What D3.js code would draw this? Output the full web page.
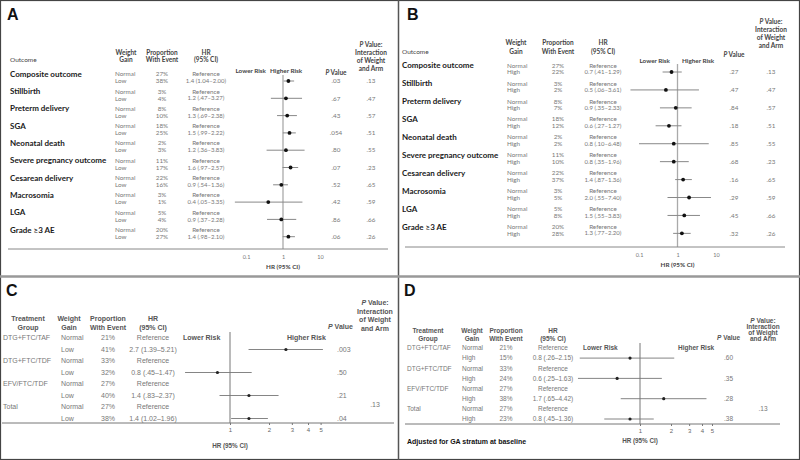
<!DOCTYPE html>
<html><head><meta charset="utf-8">
<script src="https://cdn.jsdelivr.net/npm/d3@7"></script>
<style>
html,body{margin:0;padding:0;background:#fff;}
svg{display:block;}
</style></head>
<body>
<svg id="chart" width="800" height="460"></svg>
<script>
// ---------- DATA ----------
const outcomes = ["Composite outcome","Stillbirth","Preterm delivery","SGA","Neonatal death","Severe pregnancy outcome","Cesarean delivery","Macrosomia","LGA","Grade \u22653 AE"];
// Panel A (Low vs Normal weight gain)
const propNormalA = ["27%","3%","8%","18%","2%","11%","22%","3%","5%","20%"];
const propLowA    = ["38%","4%","10%","25%","3%","17%","16%","1%","4%","27%"];
const hrA = [1.4,1.2,1.3,1.5,1.2,1.6,0.9,0.4,0.9,1.4];
const loA = [1.04,0.47,0.69,0.99,0.36,0.97,0.54,0.05,0.37,0.98];
const hiA = [2.00,3.27,2.38,2.22,3.83,2.57,1.36,3.35,2.28,2.10];
const hrLabelA = ["1.4 (1.04\u20132.00)","1.2 (.47\u20133.27)","1.3 (.69\u20132.38)","1.5 (.99\u20132.22)","1.2 (.36\u20133.83)","1.6 (.97\u20132.57)","0.9 (.54\u20131.36)","0.4 (.05\u20133.35)","0.9 (.37\u20132.28)","1.4 (.98\u20132.10)"];
const pA   = [".03",".67",".43",".054",".80",".07",".52",".42",".86",".06"];
const intA = [".13",".47",".57",".51",".55",".23",".65",".59",".66",".26"];
// Panel B (High vs Normal weight gain)
const propNormalB = ["27%","3%","8%","18%","2%","11%","22%","3%","5%","20%"];
const propHighB   = ["22%","2%","7%","12%","2%","10%","37%","5%","8%","28%"];
const hrB = [0.7,0.5,0.9,0.6,0.8,0.8,1.4,2.0,1.5,1.3];
const loB = [0.41,0.06,0.35,0.27,0.10,0.35,0.87,0.55,0.55,0.77];
const hiB = [1.29,3.61,2.33,1.27,6.48,1.96,2.36,7.40,3.83,2.20];
const hrLabelB = ["0.7 (.41\u20131.29)","0.5 (.06\u20133.61)","0.9 (.35\u20132.33)","0.6 (.27\u20131.27)","0.8 (.10\u20136.48)","0.8 (.35\u20131.96)","1.4 (.87\u20131.36)","2.0 (.55\u20137.40)","1.5 (.55\u20133.83)","1.3 (.77\u20132.20)"];
const pB   = [".27",".47",".84",".18",".85",".68",".16",".29",".45",".32"];
const intB = [".13",".47",".57",".51",".55",".23",".65",".59",".66",".26"];
// Panels C and D (by treatment group)
const groups = ["DTG+FTC/TAF","DTG+FTC/TDF","EFV/FTC/TDF","Total"];
const propNormalC = ["21%","33%","27%","27%"];
const propLowC    = ["41%","32%","40%","38%"];
const hrC = [2.7,0.8,1.4,1.4];
const loC = [1.39,0.45,0.83,1.02];
const hiC = [5.21,1.47,2.37,1.96];
const hrLabelC = ["2.7 (1.39\u20135.21)","0.8 (.45\u20131.47)","1.4 (.83\u20132.37)","1.4 (1.02\u20131.96)"];
const pC = [".003",".50",".21",".04"];
const intC = ".13";
const propNormalD = ["21%","33%","27%","27%"];
const propHighD   = ["15%","24%","38%","23%"];
const hrD = [0.8,0.6,1.7,0.8];
const loD = [0.26,0.25,0.65,0.45];
const hiD = [2.15,1.63,4.42,1.36];
const hrLabelD = ["0.8 (.26\u20132.15)","0.6 (.25\u20131.63)","1.7 (.65\u20134.42)","0.8 (.45\u20131.36)"];
const pD = [".60",".35",".28",".38"];
const intD = ".13";
const ticksAB = [0.1, 1, 10];
const ticksCD = [1, 2, 3, 4, 5];

// ---------- DRAW ----------
const svg = d3.select("#chart");
const FAB = "Lato, 'Open Sans', sans-serif";
const FCD = "'Liberation Sans', Arial, sans-serif";

function txt(g, x, y, s, o = {}) {
  return g.append("text").attr("x", x).attr("y", y).attr("dy", "0.35em")
    .attr("font-family", o.family || FAB).attr("font-size", o.size || 6.5)
    .attr("font-weight", o.weight || "normal").attr("fill", o.fill || "#777")
    .attr("text-anchor", o.anchor || "start").text(s);
}
function pValHeader(g, x, y, o, suffix) {
  const t = g.append("text").attr("x", x).attr("y", y).attr("dy", "0.35em")
    .attr("font-family", o.family).attr("font-size", o.size).attr("font-weight", "bold")
    .attr("fill", o.fill).attr("text-anchor", o.anchor || "middle");
  t.append("tspan").attr("font-style", "italic").text("P");
  t.append("tspan").text(" Value" + (suffix || ""));
}
function multi(g, x, ys, lines, o) {
  lines.forEach((l, i) => txt(g, x, ys[i], l, o));
}

// Frame
svg.append("rect").attr("x", 0.5).attr("y", 0.5).attr("width", 799).attr("height", 459)
  .attr("fill", "none").attr("stroke", "#444").attr("stroke-width", 1.2);
svg.append("line").attr("x1", 398.5).attr("x2", 398.5).attr("y1", 0).attr("y2", 460)
  .attr("stroke", "#555").attr("stroke-width", 1.5);
svg.append("line").attr("x1", 0).attr("x2", 800).attr("y1", 276.5).attr("y2", 276.5)
  .attr("stroke", "#999").attr("stroke-width", 2.5);

// ---------- Panels A / B ----------
function panelAB(cfg) {
  const g = svg.append("g");
  const H = { family: FAB, size: 6.5, weight: "bold", fill: "#444", anchor: "middle" };
  txt(g, cfg.x0 + cfg.letterDx, 14, cfg.letter, { family: FCD, size: 16, weight: "bold", fill: "#111" });
  txt(g, cfg.nameX, cfg.hy[1], "Outcome", { family: FAB, size: 6.5, fill: "#444" });
  multi(g, cfg.wgX, cfg.hy, ["Weight", "Gain"], H);
  multi(g, cfg.propX, cfg.hy, ["Proportion", "With Event"], H);
  multi(g, cfg.hrX, cfg.hy, ["HR", "(95% CI)"], H);
  pValHeader(g, cfg.pX, cfg.pHy, H);
  const iy = cfg.intHy;
  pValHeader(g, cfg.intX, iy[0], H, ":");
  multi(g, cfg.intX, iy.slice(1), ["Interaction", "of Weight", "and Arm"], H);

  const y = d3.scalePoint().domain(outcomes).range([cfg.row0, cfg.row0 + cfg.rowStep * (outcomes.length - 1)]);
  const x = d3.scaleLog().domain([0.1, 10]).range(cfg.xr);

  txt(g, cfg.lowEnd, cfg.riskY, "Lower Risk", { ...H, anchor: "end", size: 6.3 });
  txt(g, cfg.highStart, cfg.riskY, "Higher Risk", { ...H, anchor: "start", size: 6.3 });

  // reference line
  g.append("line").attr("x1", x(1)).attr("x2", x(1)).attr("y1", cfg.refTop).attr("y2", cfg.axisY)
    .attr("stroke", "#aaa").attr("stroke-width", 1.3);

  outcomes.forEach((o, i) => {
    const yy = y(o), y2 = yy + cfg.sub;
    txt(g, cfg.nameX, yy, o, { family: FAB, size: 8, weight: "bold", fill: "#1a1a1a" });
    txt(g, cfg.wgDataX, yy, "Normal", { size: 6.3 });
    txt(g, cfg.wgDataX, y2, cfg.cmpLabel, { size: 6.3 });
    txt(g, cfg.propX, yy, cfg.pn[i], { size: 6.3, anchor: "middle" });
    txt(g, cfg.propX, y2, cfg.pc[i], { size: 6.3, anchor: "middle" });
    txt(g, cfg.hrX, yy, "Reference", { size: 6.3, anchor: "middle" });
    txt(g, cfg.hrX, y2, cfg.lab[i], { size: 6, anchor: "middle" });
    txt(g, cfg.pX, y2, cfg.p[i], { size: 6.3, anchor: "middle" });
    txt(g, cfg.intX, y2, cfg.int[i], { size: 6.3, anchor: "middle" });
    g.append("line").attr("x1", x(cfg.lo[i])).attr("x2", x(cfg.hi[i])).attr("y1", y2).attr("y2", y2)
      .attr("stroke", "#888").attr("stroke-width", 1);
    g.append("circle").attr("cx", x(cfg.hr[i])).attr("cy", y2).attr("r", 1.9).attr("fill", "#111");
  });

  // axis
  g.append("line").attr("x1", cfg.axX[0]).attr("x2", cfg.axX[1]).attr("y1", cfg.axisY).attr("y2", cfg.axisY)
    .attr("stroke", "#888").attr("stroke-width", 1);
  const ax = g.append("g").attr("transform", `translate(0,${cfg.axisY})`)
    .call(d3.axisBottom(x).tickValues(ticksAB).tickFormat(d => String(d)).tickSize(0).tickPadding(6));
  ax.select(".domain").remove();
  ax.selectAll("text").attr("font-family", FAB).attr("font-size", 5.5).attr("fill", "#777");
  txt(g, x(1), cfg.axisY + 18, "HR (95% CI)", { ...H, size: 6.3 });
}

panelAB({ x0: 0, letter: "A", letterDx: 7, nameX: 10, hy: [53, 60], wgX: 126, wgDataX: 115, propX: 162, hrX: 206,
  pX: 336, pHy: 73, intX: 371, intHy: [45, 53, 61, 69], row0: 74, rowStep: 17.3, sub: 7,
  xr: [246, 320], riskY: 71, lowEnd: 266, highStart: 270, refTop: 75, axisY: 249, axX: [8, 388], cmpLabel: "Low",
  pn: propNormalA, pc: propLowA, lab: hrLabelA, p: pA, int: intA, lo: loA, hi: hiA, hr: hrA });
panelAB({ x0: 400, letter: "B", letterDx: 7, nameX: 402, hy: [43, 52], wgX: 516, wgDataX: 507, propX: 558, hrX: 603,
  pX: 734, pHy: 55, intX: 771, intHy: [22, 30, 38, 46], row0: 65.5, rowStep: 17.93, sub: 6.5,
  xr: [639, 716], riskY: 61, lowEnd: 670, highStart: 682, refTop: 64, axisY: 247, axX: [405, 785], cmpLabel: "High",
  pn: propNormalB, pc: propHighB, lab: hrLabelB, p: pB, int: intB, lo: loB, hi: hiB, hr: hrB });

// ---------- Panels C / D ----------
function panelCD(cfg) {
  const g = svg.append("g");
  const S = cfg.fs;
  const H = { family: FCD, size: S, weight: "bold", fill: "#555", anchor: "middle" };
  const Dt = { family: FCD, size: S, fill: "#777" };
  txt(g, cfg.letterX, 290, cfg.letter, { family: FCD, size: 16, weight: "bold", fill: "#111" });
  multi(g, cfg.tgX, cfg.hy, ["Treatment", "Group"], H);
  multi(g, cfg.wgX, cfg.hy, ["Weight", "Gain"], H);
  multi(g, cfg.propX, cfg.hy, ["Proportion", "With Event"], H);
  multi(g, cfg.hrX, cfg.hy, ["HR", "(95% CI)"], H);
  pValHeader(g, cfg.pHX, cfg.pHy, { ...H, anchor: "start" });
  pValHeader(g, cfg.intX, cfg.intHy[0], H, ":");
  multi(g, cfg.intX, cfg.intHy.slice(1), ["Interaction", "of Weight", "and Arm"], H);

  const y = d3.scalePoint().domain(groups).range([cfg.row0, cfg.row0 + cfg.rowStep * 3]);
  const x = d3.scaleLog().domain([1, 5]).range(cfg.xr);

  g.append("line").attr("x1", x(1)).attr("x2", x(1)).attr("y1", cfg.refTop).attr("y2", cfg.axisY)
    .attr("stroke", "#666").attr("stroke-width", 0.9);
  txt(g, cfg.lowX, cfg.row0, "Lower Risk", { ...H, anchor: "start" });
  txt(g, cfg.highX, cfg.row0, "Higher Risk", { ...H, anchor: "start" });

  groups.forEach((gr, i) => {
    const yy = y(gr), y2 = yy + cfg.sub;
    txt(g, cfg.nameX, yy, gr, Dt);
    txt(g, cfg.wgDataX, yy, "Normal", Dt);
    txt(g, cfg.wgDataX, y2, cfg.cmpLabel, Dt);
    txt(g, cfg.propX, yy, cfg.pn[i], { ...Dt, anchor: "middle" });
    txt(g, cfg.propX, y2, cfg.pc[i], { ...Dt, anchor: "middle" });
    txt(g, cfg.hrX, yy, "Reference", { ...Dt, anchor: "middle" });
    txt(g, cfg.hrX, y2, cfg.lab[i], { ...Dt, anchor: "middle" });
    txt(g, cfg.pX, y2, cfg.p[i], Dt);
    g.append("line").attr("x1", x(cfg.lo[i])).attr("x2", x(cfg.hi[i])).attr("y1", y2).attr("y2", y2)
      .attr("stroke", "#777").attr("stroke-width", 0.9);
    g.append("circle").attr("cx", x(cfg.hr[i])).attr("cy", y2).attr("r", 1.6).attr("fill", "#222");
  });
  txt(g, cfg.intX, cfg.intY, cfg.int, { ...Dt, anchor: "middle" });

  g.append("line").attr("x1", cfg.axX[0]).attr("x2", cfg.axX[1]).attr("y1", cfg.axisY).attr("y2", cfg.axisY)
    .attr("stroke", "#777").attr("stroke-width", 1);
  const ax = g.append("g").attr("transform", `translate(0,${cfg.axisY})`)
    .call(d3.axisBottom(x).tickValues(ticksCD).tickFormat(d => String(d)).tickSize(2).tickPadding(3));
  ax.select(".domain").remove();
  ax.selectAll("line").attr("stroke", "#777");
  ax.selectAll("text").attr("font-family", FCD).attr("font-size", 6).attr("fill", "#666");
  txt(g, x(1), cfg.titleY, "HR (95% CI)", { ...H, size: 6.3 });
  if (cfg.note) txt(g, cfg.nameX, cfg.noteY, cfg.note, { family: FCD, size: 7, weight: "bold", fill: "#111" });
}

panelCD({ letter: "C", letterX: 6, fs: 7, tgX: 28, wgX: 69, propX: 108, hrX: 153, hy: [319, 328],
  pHX: 328, pHy: 327, intX: 375, intHy: [303, 311.5, 320, 328.5], row0: 338, rowStep: 23, sub: 11.5,
  xr: [230, 320.6], refTop: 332, axisY: 423, axX: [2, 394], lowX: 183, highX: 287,
  nameX: 3, wgDataX: 61, pX: 337, intY: 405, titleY: 446, cmpLabel: "Low",
  pn: propNormalC, pc: propLowC, lab: hrLabelC, p: pC, int: intC, lo: loC, hi: hiC, hr: hrC });
panelCD({ letter: "D", letterX: 404, fs: 6.5, tgX: 428, wgX: 472, propX: 506, hrX: 553, hy: [331, 338.5],
  pHX: 717, pHy: 338, intX: 763, intHy: [320.5, 326.5, 332.5, 339], row0: 348, rowStep: 20.3, sub: 10.1,
  xr: [640, 712], refTop: 343, axisY: 424, axX: [405, 780], lowX: 583, highX: 678,
  nameX: 407, wgDataX: 462, pX: 724, intY: 409, titleY: 441, cmpLabel: "High",
  note: "Adjusted for GA stratum at baseline", noteY: 442,
  pn: propNormalD, pc: propHighD, lab: hrLabelD, p: pD, int: intD, lo: loD, hi: hiD, hr: hrD });
</script>
</body></html>
